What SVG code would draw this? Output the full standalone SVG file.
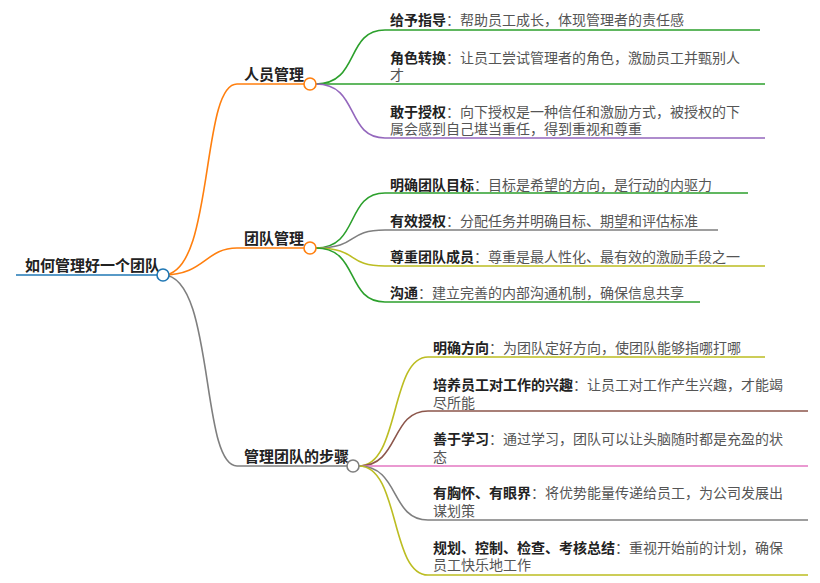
<svg xmlns="http://www.w3.org/2000/svg" width="820" height="583" viewBox="0 0 820 583">
<style>
text{font-family:"Noto Sans CJK SC","Noto Sans",sans-serif;font-size:14px;fill:#555}
.b{font-weight:bold;fill:#222}
.m{font-weight:bold;fill:#222;font-size:15px}
path{fill:none;stroke-width:1.6}
circle{fill:#fff;stroke-width:1.6}
</style>
<g id="connectors">
<path d="M16 275H163" stroke="#1f77b4" stroke-width="4"/>
<path d="M163 275C215 275 200 84 237 84H310" stroke="#ff7f0e" stroke-width="2"/>
<path d="M163 275C205 275 205 248 237 248H310" stroke="#ff7f0e" stroke-width="2"/>
<path d="M163 275C215 275 200 466 237 466H353" stroke="#7f7f7f" stroke-width="2"/>
<path d="M316 84C360 84 345 30 385 30H760" stroke="#2ca02c"/>
<path d="M316 84H765" stroke="#2ca02c"/>
<path d="M316 84C360 84 345 138 385 138H765" stroke="#9467bd"/>
<path d="M316 248C360 248 345 193 385 193H748" stroke="#2ca02c"/>
<path d="M316 248C360 248 345 230 385 230H718" stroke="#7f7f7f"/>
<path d="M316 248C360 248 345 266 385 266H765" stroke="#bcbd22"/>
<path d="M316 248C360 248 345 302 385 302H700" stroke="#2ca02c"/>
<path d="M359 466C400 466 390 357 428 357H765" stroke="#bcbd22"/>
<path d="M359 466C400 466 390 411 428 411H808" stroke="#8c564b"/>
<path d="M359 466H808" stroke="#e377c2"/>
<path d="M359 466C400 466 390 520 428 520H808" stroke="#7f7f7f"/>
<path d="M359 466C400 466 390 575 428 575H808" stroke="#bcbd22"/>
</g>
<g id="root"><text class="m" x="25" y="271">如何管理好一个团队</text><circle cx="163" cy="275" r="6" stroke="#1f77b4"/></g>
<g id="n1"><text class="m" x="244" y="80">人员管理</text><circle cx="310" cy="84" r="6" stroke="#ff7f0e"/></g>
<g id="n2"><text class="m" x="244" y="244">团队管理</text><circle cx="310" cy="248" r="6" stroke="#ff7f0e"/></g>
<g id="n3"><text class="m" x="244" y="462">管理团队的步骤</text><circle cx="353" cy="466" r="6" stroke="#7f7f7f"/></g>
<g id="c1"><text x="390" y="25"><tspan class="b">给予指导</tspan>：帮助员工成长，体现管理者的责任感</text></g>
<g id="c2"><text x="390" y="63"><tspan class="b">角色转换</tspan>：让员工尝试管理者的角色，激励员工并甄别人</text><text x="390" y="80">才</text></g>
<g id="c3"><text x="390" y="117"><tspan class="b">敢于授权</tspan>：向下授权是一种信任和激励方式，被授权的下</text><text x="390" y="134">属会感到自己堪当重任，得到重视和尊重</text></g>
<g id="c4"><text x="390" y="190"><tspan class="b">明确团队目标</tspan>：目标是希望的方向，是行动的内驱力</text></g>
<g id="c5"><text x="390" y="226"><tspan class="b">有效授权</tspan>：分配任务并明确目标、期望和评估标准</text></g>
<g id="c6"><text x="390" y="262"><tspan class="b">尊重团队成员</tspan>：尊重是最人性化、最有效的激励手段之一</text></g>
<g id="c7"><text x="390" y="298"><tspan class="b">沟通</tspan>：建立完善的内部沟通机制，确保信息共享</text></g>
<g id="c8"><text x="433" y="353"><tspan class="b">明确方向</tspan>：为团队定好方向，使团队能够指哪打哪</text></g>
<g id="c9"><text x="433" y="390"><tspan class="b">培养员工对工作的兴趣</tspan>：让员工对工作产生兴趣，才能竭</text><text x="433" y="408">尽所能</text></g>
<g id="c10"><text x="433" y="444"><tspan class="b">善于学习</tspan>：通过学习，团队可以让头脑随时都是充盈的状</text><text x="433" y="462">态</text></g>
<g id="c11"><text x="433" y="498"><tspan class="b">有胸怀、有眼界</tspan>：将优势能量传递给员工，为公司发展出</text><text x="433" y="516">谋划策</text></g>
<g id="c12"><text x="433" y="553"><tspan class="b">规划、控制、检查、考核总结</tspan>：重视开始前的计划，确保</text><text x="433" y="570">员工快乐地工作</text></g>
</svg>
